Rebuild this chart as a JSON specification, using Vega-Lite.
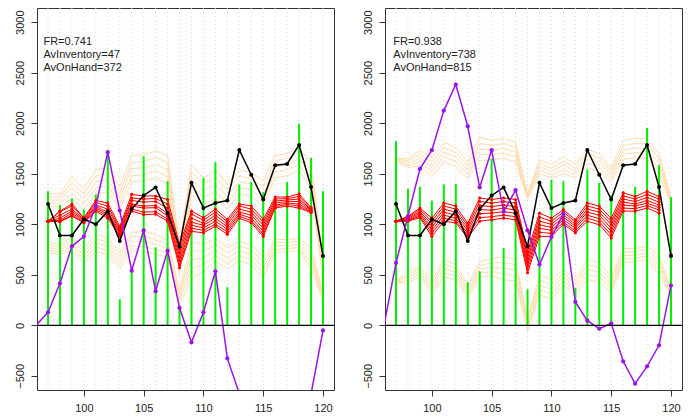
{
"$schema":"https://vega.github.io/schema/vega-lite/v6.json",
"padding":{"left":13,"top":7,"right":0,"bottom":0},
"spacing":25,
"config":{"font":"Liberation Sans","view":{"stroke":"#333","strokeWidth":1}},
"datasets":{
"black":[{"x":97,"v":1200},{"x":98,"v":890},{"x":99,"v":890},{"x":100,"v":1050},{"x":101,"v":1000},{"x":102,"v":1130},{"x":103,"v":835},{"x":104,"v":1150},{"x":105,"v":1285},{"x":106,"v":1365},{"x":107,"v":1110},{"x":108,"v":780},{"x":109,"v":1410},{"x":110,"v":1160},{"x":111,"v":1210},{"x":112,"v":1235},{"x":113,"v":1735},{"x":114,"v":1490},{"x":115,"v":1245},{"x":116,"v":1585},{"x":117,"v":1597},{"x":118,"v":1785},{"x":119,"v":1368},{"x":120,"v":685}],
"purple":[
{"p":"L","x":96,"v":0},{"p":"L","x":97,"v":129},{"p":"L","x":98,"v":416},{"p":"L","x":99,"v":782},{"p":"L","x":100,"v":878},{"p":"L","x":101,"v":1178},{"p":"L","x":102,"v":1713},{"p":"L","x":103,"v":1135},{"p":"L","x":104,"v":541},{"p":"L","x":105,"v":940},{"p":"L","x":106,"v":337},{"p":"L","x":107,"v":739},{"p":"L","x":108,"v":172},{"p":"L","x":109,"v":-168},{"p":"L","x":110,"v":129},{"p":"L","x":111,"v":535},{"p":"L","x":112,"v":-327},{"p":"L","x":113,"v":-675},{"p":"L","x":114,"v":-900},{"p":"L","x":115,"v":-1000},{"p":"L","x":116,"v":-1050},{"p":"L","x":117,"v":-1000},{"p":"L","x":118,"v":-850},{"p":"L","x":119,"v":-680},{"p":"L","x":120,"v":-50},
{"p":"R","x":96,"v":0},{"p":"R","x":97,"v":617},{"p":"R","x":98,"v":1079},{"p":"R","x":99,"v":1548},{"p":"R","x":100,"v":1733},{"p":"R","x":101,"v":2125},{"p":"R","x":102,"v":2383},{"p":"R","x":103,"v":1970},{"p":"R","x":104,"v":1366},{"p":"R","x":105,"v":1733},{"p":"R","x":106,"v":1125},{"p":"R","x":107,"v":1337},{"p":"R","x":108,"v":940},{"p":"R","x":109,"v":601},{"p":"R","x":110,"v":875},{"p":"R","x":111,"v":1102},{"p":"R","x":112,"v":231},{"p":"R","x":113,"v":46},{"p":"R","x":114,"v":-33},{"p":"R","x":115,"v":20},{"p":"R","x":116,"v":-356},{"p":"R","x":117,"v":-577},{"p":"R","x":118,"v":-406},{"p":"R","x":119,"v":-198},{"p":"R","x":120,"v":393}],
"green":[
{"p":"L","x":97,"v":1327},{"p":"L","x":98,"v":1190},{"p":"L","x":99,"v":1257},{"p":"L","x":100,"v":1148},{"p":"L","x":101,"v":1294},{"p":"L","x":102,"v":1715},{"p":"L","x":103,"v":257},{"p":"L","x":104,"v":540},{"p":"L","x":105,"v":1673},{"p":"L","x":106,"v":772},{"p":"L","x":107,"v":1426},{"p":"L","x":108,"v":175},{"p":"L","x":109,"v":1063},{"p":"L","x":110,"v":1459},{"p":"L","x":111,"v":1614},{"p":"L","x":112,"v":376},{"p":"L","x":113,"v":1393},{"p":"L","x":114,"v":1419},{"p":"L","x":115,"v":1317},{"p":"L","x":116,"v":1247},{"p":"L","x":117,"v":1419},{"p":"L","x":118,"v":1996},{"p":"L","x":119,"v":1657},{"p":"L","x":120,"v":1327},
{"p":"R","x":97,"v":1822},{"p":"R","x":98,"v":1350},{"p":"R","x":99,"v":1370},{"p":"R","x":100,"v":1234},{"p":"R","x":101,"v":1393},{"p":"R","x":102,"v":1400},{"p":"R","x":103,"v":426},{"p":"R","x":104,"v":535},{"p":"R","x":105,"v":1650},{"p":"R","x":106,"v":766},{"p":"R","x":107,"v":1234},{"p":"R","x":108,"v":356},{"p":"R","x":109,"v":1069},{"p":"R","x":110,"v":1442},{"p":"R","x":111,"v":1426},{"p":"R","x":112,"v":370},{"p":"R","x":113,"v":1541},{"p":"R","x":114,"v":1409},{"p":"R","x":115,"v":1287},{"p":"R","x":116,"v":1327},{"p":"R","x":117,"v":1370},{"p":"R","x":118,"v":1954},{"p":"R","x":119,"v":1584},{"p":"R","x":120,"v":1267}],
"red":[
{"p":"L","s":0,"x":120,"v":688},{"p":"R","s":0,"x":120,"v":700},
{"p":"L","s":1,"x":97,"v":1030},{"p":"L","s":1,"x":98,"v":1130},{"p":"L","s":1,"x":99,"v":1200},{"p":"L","s":1,"x":100,"v":1065},{"p":"L","s":1,"x":101,"v":1235},{"p":"L","s":1,"x":102,"v":1210},{"p":"L","s":1,"x":103,"v":980},{"p":"L","s":1,"x":104,"v":1295},{"p":"L","s":1,"x":105,"v":1280},{"p":"L","s":1,"x":106,"v":1280},{"p":"L","s":1,"x":107,"v":1245},{"p":"L","s":1,"x":108,"v":800},{"p":"L","s":1,"x":109,"v":1130},{"p":"L","s":1,"x":110,"v":1065},{"p":"L","s":1,"x":111,"v":1150},{"p":"L","s":1,"x":112,"v":1050},{"p":"L","s":1,"x":113,"v":1200},{"p":"L","s":1,"x":114,"v":1180},{"p":"L","s":1,"x":115,"v":1050},{"p":"L","s":1,"x":116,"v":1270},{"p":"L","s":1,"x":117,"v":1270},{"p":"L","s":1,"x":118,"v":1300},{"p":"L","s":1,"x":119,"v":1165},
{"p":"L","s":2,"x":97,"v":1030},{"p":"L","s":2,"x":98,"v":1125},{"p":"L","s":2,"x":99,"v":1180},{"p":"L","s":2,"x":100,"v":1060},{"p":"L","s":2,"x":101,"v":1215},{"p":"L","s":2,"x":102,"v":1180},{"p":"L","s":2,"x":103,"v":960},{"p":"L","s":2,"x":104,"v":1260},{"p":"L","s":2,"x":105,"v":1250},{"p":"L","s":2,"x":106,"v":1255},{"p":"L","s":2,"x":107,"v":1200},{"p":"L","s":2,"x":108,"v":760},{"p":"L","s":2,"x":109,"v":1100},{"p":"L","s":2,"x":110,"v":1040},{"p":"L","s":2,"x":111,"v":1120},{"p":"L","s":2,"x":112,"v":1025},{"p":"L","s":2,"x":113,"v":1180},{"p":"L","s":2,"x":114,"v":1150},{"p":"L","s":2,"x":115,"v":1020},{"p":"L","s":2,"x":116,"v":1250},{"p":"L","s":2,"x":117,"v":1255},{"p":"L","s":2,"x":118,"v":1275},{"p":"L","s":2,"x":119,"v":1155},
{"p":"L","s":3,"x":97,"v":1030},{"p":"L","s":3,"x":98,"v":1090},{"p":"L","s":3,"x":99,"v":1150},{"p":"L","s":3,"x":100,"v":1050},{"p":"L","s":3,"x":101,"v":1190},{"p":"L","s":3,"x":102,"v":1150},{"p":"L","s":3,"x":103,"v":945},{"p":"L","s":3,"x":104,"v":1235},{"p":"L","s":3,"x":105,"v":1220},{"p":"L","s":3,"x":106,"v":1225},{"p":"L","s":3,"x":107,"v":1160},{"p":"L","s":3,"x":108,"v":720},{"p":"L","s":3,"x":109,"v":1060},{"p":"L","s":3,"x":110,"v":1010},{"p":"L","s":3,"x":111,"v":1090},{"p":"L","s":3,"x":112,"v":1000},{"p":"L","s":3,"x":113,"v":1150},{"p":"L","s":3,"x":114,"v":1120},{"p":"L","s":3,"x":115,"v":990},{"p":"L","s":3,"x":116,"v":1230},{"p":"L","s":3,"x":117,"v":1240},{"p":"L","s":3,"x":118,"v":1250},{"p":"L","s":3,"x":119,"v":1145},
{"p":"L","s":4,"x":97,"v":1030},{"p":"L","s":4,"x":98,"v":1060},{"p":"L","s":4,"x":99,"v":1130},{"p":"L","s":4,"x":100,"v":1040},{"p":"L","s":4,"x":101,"v":1175},{"p":"L","s":4,"x":102,"v":1120},{"p":"L","s":4,"x":103,"v":930},{"p":"L","s":4,"x":104,"v":1200},{"p":"L","s":4,"x":105,"v":1180},{"p":"L","s":4,"x":106,"v":1185},{"p":"L","s":4,"x":107,"v":1110},{"p":"L","s":4,"x":108,"v":680},{"p":"L","s":4,"x":109,"v":1020},{"p":"L","s":4,"x":110,"v":990},{"p":"L","s":4,"x":111,"v":1060},{"p":"L","s":4,"x":112,"v":975},{"p":"L","s":4,"x":113,"v":1120},{"p":"L","s":4,"x":114,"v":1090},{"p":"L","s":4,"x":115,"v":960},{"p":"L","s":4,"x":116,"v":1210},{"p":"L","s":4,"x":117,"v":1225},{"p":"L","s":4,"x":118,"v":1225},{"p":"L","s":4,"x":119,"v":1140},
{"p":"L","s":5,"x":97,"v":1030},{"p":"L","s":5,"x":98,"v":1040},{"p":"L","s":5,"x":99,"v":1110},{"p":"L","s":5,"x":100,"v":1030},{"p":"L","s":5,"x":101,"v":1160},{"p":"L","s":5,"x":102,"v":1100},{"p":"L","s":5,"x":103,"v":915},{"p":"L","s":5,"x":104,"v":1180},{"p":"L","s":5,"x":105,"v":1160},{"p":"L","s":5,"x":106,"v":1165},{"p":"L","s":5,"x":107,"v":1080},{"p":"L","s":5,"x":108,"v":640},{"p":"L","s":5,"x":109,"v":990},{"p":"L","s":5,"x":110,"v":965},{"p":"L","s":5,"x":111,"v":1030},{"p":"L","s":5,"x":112,"v":950},{"p":"L","s":5,"x":113,"v":1100},{"p":"L","s":5,"x":114,"v":1060},{"p":"L","s":5,"x":115,"v":930},{"p":"L","s":5,"x":116,"v":1190},{"p":"L","s":5,"x":117,"v":1210},{"p":"L","s":5,"x":118,"v":1200},{"p":"L","s":5,"x":119,"v":1130},
{"p":"L","s":6,"x":97,"v":1030},{"p":"L","s":6,"x":98,"v":1030},{"p":"L","s":6,"x":99,"v":1090},{"p":"L","s":6,"x":100,"v":1020},{"p":"L","s":6,"x":101,"v":1145},{"p":"L","s":6,"x":102,"v":1080},{"p":"L","s":6,"x":103,"v":900},{"p":"L","s":6,"x":104,"v":1150},{"p":"L","s":6,"x":105,"v":1120},{"p":"L","s":6,"x":106,"v":1125},{"p":"L","s":6,"x":107,"v":1050},{"p":"L","s":6,"x":108,"v":600},{"p":"L","s":6,"x":109,"v":960},{"p":"L","s":6,"x":110,"v":940},{"p":"L","s":6,"x":111,"v":1000},{"p":"L","s":6,"x":112,"v":925},{"p":"L","s":6,"x":113,"v":1080},{"p":"L","s":6,"x":114,"v":1035},{"p":"L","s":6,"x":115,"v":900},{"p":"L","s":6,"x":116,"v":1175},{"p":"L","s":6,"x":117,"v":1195},{"p":"L","s":6,"x":118,"v":1180},{"p":"L","s":6,"x":119,"v":1120},
{"p":"L","s":7,"x":97,"v":1030},{"p":"L","s":7,"x":98,"v":1025},{"p":"L","s":7,"x":99,"v":1080},{"p":"L","s":7,"x":100,"v":1015},{"p":"L","s":7,"x":101,"v":1130},{"p":"L","s":7,"x":102,"v":1060},{"p":"L","s":7,"x":103,"v":880},{"p":"L","s":7,"x":104,"v":1130},{"p":"L","s":7,"x":105,"v":1095},{"p":"L","s":7,"x":106,"v":1100},{"p":"L","s":7,"x":107,"v":1030},{"p":"L","s":7,"x":108,"v":570},{"p":"L","s":7,"x":109,"v":930},{"p":"L","s":7,"x":110,"v":915},{"p":"L","s":7,"x":111,"v":980},{"p":"L","s":7,"x":112,"v":900},{"p":"L","s":7,"x":113,"v":1060},{"p":"L","s":7,"x":114,"v":1015},{"p":"L","s":7,"x":115,"v":880},{"p":"L","s":7,"x":116,"v":1160},{"p":"L","s":7,"x":117,"v":1180},{"p":"L","s":7,"x":118,"v":1160},{"p":"L","s":7,"x":119,"v":1115},
{"p":"R","s":1,"x":97,"v":1030},{"p":"R","s":1,"x":98,"v":1080},{"p":"R","s":1,"x":99,"v":1160},{"p":"R","s":1,"x":100,"v":1060},{"p":"R","s":1,"x":101,"v":1210},{"p":"R","s":1,"x":102,"v":1180},{"p":"R","s":1,"x":103,"v":1010},{"p":"R","s":1,"x":104,"v":1260},{"p":"R","s":1,"x":105,"v":1245},{"p":"R","s":1,"x":106,"v":1260},{"p":"R","s":1,"x":107,"v":1245},{"p":"R","s":1,"x":108,"v":730},{"p":"R","s":1,"x":109,"v":1110},{"p":"R","s":1,"x":110,"v":1060},{"p":"R","s":1,"x":111,"v":1145},{"p":"R","s":1,"x":112,"v":1045},{"p":"R","s":1,"x":113,"v":1210},{"p":"R","s":1,"x":114,"v":1180},{"p":"R","s":1,"x":115,"v":1060},{"p":"R","s":1,"x":116,"v":1310},{"p":"R","s":1,"x":117,"v":1275},{"p":"R","s":1,"x":118,"v":1325},{"p":"R","s":1,"x":119,"v":1275},
{"p":"R","s":2,"x":97,"v":1030},{"p":"R","s":2,"x":98,"v":1070},{"p":"R","s":2,"x":99,"v":1145},{"p":"R","s":2,"x":100,"v":1030},{"p":"R","s":2,"x":101,"v":1180},{"p":"R","s":2,"x":102,"v":1150},{"p":"R","s":2,"x":103,"v":985},{"p":"R","s":2,"x":104,"v":1225},{"p":"R","s":2,"x":105,"v":1210},{"p":"R","s":2,"x":106,"v":1225},{"p":"R","s":2,"x":107,"v":1210},{"p":"R","s":2,"x":108,"v":695},{"p":"R","s":2,"x":109,"v":1070},{"p":"R","s":2,"x":110,"v":1030},{"p":"R","s":2,"x":111,"v":1120},{"p":"R","s":2,"x":112,"v":1025},{"p":"R","s":2,"x":113,"v":1180},{"p":"R","s":2,"x":114,"v":1150},{"p":"R","s":2,"x":115,"v":1025},{"p":"R","s":2,"x":116,"v":1280},{"p":"R","s":2,"x":117,"v":1250},{"p":"R","s":2,"x":118,"v":1295},{"p":"R","s":2,"x":119,"v":1250},
{"p":"R","s":3,"x":97,"v":1030},{"p":"R","s":3,"x":98,"v":1060},{"p":"R","s":3,"x":99,"v":1125},{"p":"R","s":3,"x":100,"v":1000},{"p":"R","s":3,"x":101,"v":1150},{"p":"R","s":3,"x":102,"v":1120},{"p":"R","s":3,"x":103,"v":960},{"p":"R","s":3,"x":104,"v":1185},{"p":"R","s":3,"x":105,"v":1175},{"p":"R","s":3,"x":106,"v":1190},{"p":"R","s":3,"x":107,"v":1175},{"p":"R","s":3,"x":108,"v":660},{"p":"R","s":3,"x":109,"v":1030},{"p":"R","s":3,"x":110,"v":1000},{"p":"R","s":3,"x":111,"v":1095},{"p":"R","s":3,"x":112,"v":1000},{"p":"R","s":3,"x":113,"v":1150},{"p":"R","s":3,"x":114,"v":1120},{"p":"R","s":3,"x":115,"v":995},{"p":"R","s":3,"x":116,"v":1250},{"p":"R","s":3,"x":117,"v":1225},{"p":"R","s":3,"x":118,"v":1265},{"p":"R","s":3,"x":119,"v":1220},
{"p":"R","s":4,"x":97,"v":1030},{"p":"R","s":4,"x":98,"v":1050},{"p":"R","s":4,"x":99,"v":1110},{"p":"R","s":4,"x":100,"v":970},{"p":"R","s":4,"x":101,"v":1120},{"p":"R","s":4,"x":102,"v":1090},{"p":"R","s":4,"x":103,"v":935},{"p":"R","s":4,"x":104,"v":1145},{"p":"R","s":4,"x":105,"v":1140},{"p":"R","s":4,"x":106,"v":1160},{"p":"R","s":4,"x":107,"v":1140},{"p":"R","s":4,"x":108,"v":625},{"p":"R","s":4,"x":109,"v":995},{"p":"R","s":4,"x":110,"v":970},{"p":"R","s":4,"x":111,"v":1070},{"p":"R","s":4,"x":112,"v":980},{"p":"R","s":4,"x":113,"v":1120},{"p":"R","s":4,"x":114,"v":1090},{"p":"R","s":4,"x":115,"v":960},{"p":"R","s":4,"x":116,"v":1220},{"p":"R","s":4,"x":117,"v":1200},{"p":"R","s":4,"x":118,"v":1235},{"p":"R","s":4,"x":119,"v":1190},
{"p":"R","s":5,"x":97,"v":1030},{"p":"R","s":5,"x":98,"v":1040},{"p":"R","s":5,"x":99,"v":1095},{"p":"R","s":5,"x":100,"v":940},{"p":"R","s":5,"x":101,"v":1090},{"p":"R","s":5,"x":102,"v":1060},{"p":"R","s":5,"x":103,"v":910},{"p":"R","s":5,"x":104,"v":1105},{"p":"R","s":5,"x":105,"v":1110},{"p":"R","s":5,"x":106,"v":1125},{"p":"R","s":5,"x":107,"v":1110},{"p":"R","s":5,"x":108,"v":590},{"p":"R","s":5,"x":109,"v":960},{"p":"R","s":5,"x":110,"v":940},{"p":"R","s":5,"x":111,"v":1045},{"p":"R","s":5,"x":112,"v":960},{"p":"R","s":5,"x":113,"v":1090},{"p":"R","s":5,"x":114,"v":1055},{"p":"R","s":5,"x":115,"v":930},{"p":"R","s":5,"x":116,"v":1190},{"p":"R","s":5,"x":117,"v":1180},{"p":"R","s":5,"x":118,"v":1210},{"p":"R","s":5,"x":119,"v":1165},
{"p":"R","s":6,"x":97,"v":1030},{"p":"R","s":6,"x":98,"v":1035},{"p":"R","s":6,"x":99,"v":1080},{"p":"R","s":6,"x":100,"v":910},{"p":"R","s":6,"x":101,"v":1060},{"p":"R","s":6,"x":102,"v":1035},{"p":"R","s":6,"x":103,"v":890},{"p":"R","s":6,"x":104,"v":1065},{"p":"R","s":6,"x":105,"v":1075},{"p":"R","s":6,"x":106,"v":1090},{"p":"R","s":6,"x":107,"v":1075},{"p":"R","s":6,"x":108,"v":555},{"p":"R","s":6,"x":109,"v":920},{"p":"R","s":6,"x":110,"v":910},{"p":"R","s":6,"x":111,"v":1020},{"p":"R","s":6,"x":112,"v":935},{"p":"R","s":6,"x":113,"v":1060},{"p":"R","s":6,"x":114,"v":1025},{"p":"R","s":6,"x":115,"v":895},{"p":"R","s":6,"x":116,"v":1160},{"p":"R","s":6,"x":117,"v":1155},{"p":"R","s":6,"x":118,"v":1185},{"p":"R","s":6,"x":119,"v":1140},
{"p":"R","s":7,"x":97,"v":1030},{"p":"R","s":7,"x":98,"v":1030},{"p":"R","s":7,"x":99,"v":1065},{"p":"R","s":7,"x":100,"v":880},{"p":"R","s":7,"x":101,"v":1030},{"p":"R","s":7,"x":102,"v":1015},{"p":"R","s":7,"x":103,"v":865},{"p":"R","s":7,"x":104,"v":1030},{"p":"R","s":7,"x":105,"v":1045},{"p":"R","s":7,"x":106,"v":1060},{"p":"R","s":7,"x":107,"v":1045},{"p":"R","s":7,"x":108,"v":520},{"p":"R","s":7,"x":109,"v":880},{"p":"R","s":7,"x":110,"v":880},{"p":"R","s":7,"x":111,"v":1000},{"p":"R","s":7,"x":112,"v":915},{"p":"R","s":7,"x":113,"v":1030},{"p":"R","s":7,"x":114,"v":995},{"p":"R","s":7,"x":115,"v":865},{"p":"R","s":7,"x":116,"v":1130},{"p":"R","s":7,"x":117,"v":1130},{"p":"R","s":7,"x":118,"v":1160},{"p":"R","s":7,"x":119,"v":1110}],
"orange":[
{"p":"L","s":1,"x":97,"v":1300},{"p":"L","s":1,"x":98,"v":1300},{"p":"L","s":1,"x":99,"v":1470},{"p":"L","s":1,"x":100,"v":1350},{"p":"L","s":1,"x":101,"v":1540},{"p":"L","s":1,"x":102,"v":1560},{"p":"L","s":1,"x":103,"v":1370},{"p":"L","s":1,"x":104,"v":1680},{"p":"L","s":1,"x":105,"v":1690},{"p":"L","s":1,"x":106,"v":1725},{"p":"L","s":1,"x":107,"v":1680},{"p":"L","s":1,"x":108,"v":800},{"p":"L","s":1,"x":109,"v":1590},{"p":"L","s":1,"x":110,"v":1460},{"p":"L","s":1,"x":111,"v":1530},{"p":"L","s":1,"x":112,"v":1400},{"p":"L","s":1,"x":113,"v":1540},{"p":"L","s":1,"x":114,"v":1510},{"p":"L","s":1,"x":115,"v":1430},{"p":"L","s":1,"x":116,"v":1680},{"p":"L","s":1,"x":117,"v":1700},{"p":"L","s":1,"x":118,"v":1760},{"p":"L","s":1,"x":119,"v":1600},{"p":"L","s":1,"x":120,"v":700},
{"p":"L","s":2,"x":97,"v":1270},{"p":"L","s":2,"x":98,"v":1270},{"p":"L","s":2,"x":99,"v":1410},{"p":"L","s":2,"x":100,"v":1300},{"p":"L","s":2,"x":101,"v":1480},{"p":"L","s":2,"x":102,"v":1500},{"p":"L","s":2,"x":103,"v":1310},{"p":"L","s":2,"x":104,"v":1610},{"p":"L","s":2,"x":105,"v":1620},{"p":"L","s":2,"x":106,"v":1660},{"p":"L","s":2,"x":107,"v":1610},{"p":"L","s":2,"x":108,"v":720},{"p":"L","s":2,"x":109,"v":1520},{"p":"L","s":2,"x":110,"v":1400},{"p":"L","s":2,"x":111,"v":1460},{"p":"L","s":2,"x":112,"v":1340},{"p":"L","s":2,"x":113,"v":1480},{"p":"L","s":2,"x":114,"v":1450},{"p":"L","s":2,"x":115,"v":1370},{"p":"L","s":2,"x":116,"v":1630},{"p":"L","s":2,"x":117,"v":1650},{"p":"L","s":2,"x":118,"v":1700},{"p":"L","s":2,"x":119,"v":1540},{"p":"L","s":2,"x":120,"v":640},
{"p":"L","s":3,"x":97,"v":1240},{"p":"L","s":3,"x":98,"v":1240},{"p":"L","s":3,"x":99,"v":1360},{"p":"L","s":3,"x":100,"v":1250},{"p":"L","s":3,"x":101,"v":1420},{"p":"L","s":3,"x":102,"v":1440},{"p":"L","s":3,"x":103,"v":1260},{"p":"L","s":3,"x":104,"v":1550},{"p":"L","s":3,"x":105,"v":1560},{"p":"L","s":3,"x":106,"v":1590},{"p":"L","s":3,"x":107,"v":1540},{"p":"L","s":3,"x":108,"v":650},{"p":"L","s":3,"x":109,"v":1450},{"p":"L","s":3,"x":110,"v":1330},{"p":"L","s":3,"x":111,"v":1390},{"p":"L","s":3,"x":112,"v":1280},{"p":"L","s":3,"x":113,"v":1420},{"p":"L","s":3,"x":114,"v":1400},{"p":"L","s":3,"x":115,"v":1300},{"p":"L","s":3,"x":116,"v":1570},{"p":"L","s":3,"x":117,"v":1590},{"p":"L","s":3,"x":118,"v":1650},{"p":"L","s":3,"x":119,"v":1480},{"p":"L","s":3,"x":120,"v":580},
{"p":"L","s":4,"x":97,"v":1210},{"p":"L","s":4,"x":98,"v":1210},{"p":"L","s":4,"x":99,"v":1300},{"p":"L","s":4,"x":100,"v":1200},{"p":"L","s":4,"x":101,"v":1360},{"p":"L","s":4,"x":102,"v":1380},{"p":"L","s":4,"x":103,"v":1200},{"p":"L","s":4,"x":104,"v":1480},{"p":"L","s":4,"x":105,"v":1490},{"p":"L","s":4,"x":106,"v":1530},{"p":"L","s":4,"x":107,"v":1470},{"p":"L","s":4,"x":108,"v":570},{"p":"L","s":4,"x":109,"v":1370},{"p":"L","s":4,"x":110,"v":1270},{"p":"L","s":4,"x":111,"v":1320},{"p":"L","s":4,"x":112,"v":1210},{"p":"L","s":4,"x":113,"v":1360},{"p":"L","s":4,"x":114,"v":1340},{"p":"L","s":4,"x":115,"v":1240},{"p":"L","s":4,"x":116,"v":1520},{"p":"L","s":4,"x":117,"v":1540},{"p":"L","s":4,"x":118,"v":1590},{"p":"L","s":4,"x":119,"v":1410},{"p":"L","s":4,"x":120,"v":510},
{"p":"L","s":5,"x":97,"v":1180},{"p":"L","s":5,"x":98,"v":1180},{"p":"L","s":5,"x":99,"v":1250},{"p":"L","s":5,"x":100,"v":1150},{"p":"L","s":5,"x":101,"v":1300},{"p":"L","s":5,"x":102,"v":1320},{"p":"L","s":5,"x":103,"v":1150},{"p":"L","s":5,"x":104,"v":1420},{"p":"L","s":5,"x":105,"v":1430},{"p":"L","s":5,"x":106,"v":1460},{"p":"L","s":5,"x":107,"v":1400},{"p":"L","s":5,"x":108,"v":500},{"p":"L","s":5,"x":109,"v":1300},{"p":"L","s":5,"x":110,"v":1200},{"p":"L","s":5,"x":111,"v":1250},{"p":"L","s":5,"x":112,"v":1150},{"p":"L","s":5,"x":113,"v":1300},{"p":"L","s":5,"x":114,"v":1280},{"p":"L","s":5,"x":115,"v":1180},{"p":"L","s":5,"x":116,"v":1460},{"p":"L","s":5,"x":117,"v":1480},{"p":"L","s":5,"x":118,"v":1530},{"p":"L","s":5,"x":119,"v":1350},{"p":"L","s":5,"x":120,"v":450},
{"p":"L","s":6,"x":97,"v":820},{"p":"L","s":6,"x":98,"v":800},{"p":"L","s":6,"x":99,"v":880},{"p":"L","s":6,"x":100,"v":760},{"p":"L","s":6,"x":101,"v":900},{"p":"L","s":6,"x":102,"v":860},{"p":"L","s":6,"x":103,"v":720},{"p":"L","s":6,"x":104,"v":920},{"p":"L","s":6,"x":105,"v":930},{"p":"L","s":6,"x":106,"v":900},{"p":"L","s":6,"x":107,"v":840},{"p":"L","s":6,"x":108,"v":350},{"p":"L","s":6,"x":109,"v":830},{"p":"L","s":6,"x":110,"v":800},{"p":"L","s":6,"x":111,"v":860},{"p":"L","s":6,"x":112,"v":770},{"p":"L","s":6,"x":113,"v":830},{"p":"L","s":6,"x":114,"v":800},{"p":"L","s":6,"x":115,"v":670},{"p":"L","s":6,"x":116,"v":850},{"p":"L","s":6,"x":117,"v":850},{"p":"L","s":6,"x":118,"v":860},{"p":"L","s":6,"x":119,"v":760},{"p":"L","s":6,"x":120,"v":330},
{"p":"L","s":7,"x":97,"v":795},{"p":"L","s":7,"x":98,"v":775},{"p":"L","s":7,"x":99,"v":845},{"p":"L","s":7,"x":100,"v":725},{"p":"L","s":7,"x":101,"v":860},{"p":"L","s":7,"x":102,"v":820},{"p":"L","s":7,"x":103,"v":680},{"p":"L","s":7,"x":104,"v":875},{"p":"L","s":7,"x":105,"v":880},{"p":"L","s":7,"x":106,"v":850},{"p":"L","s":7,"x":107,"v":800},{"p":"L","s":7,"x":108,"v":310},{"p":"L","s":7,"x":109,"v":740},{"p":"L","s":7,"x":110,"v":730},{"p":"L","s":7,"x":111,"v":800},{"p":"L","s":7,"x":112,"v":720},{"p":"L","s":7,"x":113,"v":785},{"p":"L","s":7,"x":114,"v":750},{"p":"L","s":7,"x":115,"v":620},{"p":"L","s":7,"x":116,"v":820},{"p":"L","s":7,"x":117,"v":820},{"p":"L","s":7,"x":118,"v":830},{"p":"L","s":7,"x":119,"v":710},{"p":"L","s":7,"x":120,"v":310},
{"p":"L","s":8,"x":97,"v":770},{"p":"L","s":8,"x":98,"v":750},{"p":"L","s":8,"x":99,"v":810},{"p":"L","s":8,"x":100,"v":690},{"p":"L","s":8,"x":101,"v":815},{"p":"L","s":8,"x":102,"v":780},{"p":"L","s":8,"x":103,"v":640},{"p":"L","s":8,"x":104,"v":830},{"p":"L","s":8,"x":105,"v":830},{"p":"L","s":8,"x":106,"v":800},{"p":"L","s":8,"x":107,"v":760},{"p":"L","s":8,"x":108,"v":275},{"p":"L","s":8,"x":109,"v":650},{"p":"L","s":8,"x":110,"v":665},{"p":"L","s":8,"x":111,"v":745},{"p":"L","s":8,"x":112,"v":665},{"p":"L","s":8,"x":113,"v":735},{"p":"L","s":8,"x":114,"v":700},{"p":"L","s":8,"x":115,"v":570},{"p":"L","s":8,"x":116,"v":785},{"p":"L","s":8,"x":117,"v":790},{"p":"L","s":8,"x":118,"v":800},{"p":"L","s":8,"x":119,"v":660},{"p":"L","s":8,"x":120,"v":290},
{"p":"L","s":9,"x":97,"v":745},{"p":"L","s":9,"x":98,"v":725},{"p":"L","s":9,"x":99,"v":775},{"p":"L","s":9,"x":100,"v":655},{"p":"L","s":9,"x":101,"v":775},{"p":"L","s":9,"x":102,"v":740},{"p":"L","s":9,"x":103,"v":600},{"p":"L","s":9,"x":104,"v":785},{"p":"L","s":9,"x":105,"v":780},{"p":"L","s":9,"x":106,"v":750},{"p":"L","s":9,"x":107,"v":720},{"p":"L","s":9,"x":108,"v":240},{"p":"L","s":9,"x":109,"v":560},{"p":"L","s":9,"x":110,"v":600},{"p":"L","s":9,"x":111,"v":690},{"p":"L","s":9,"x":112,"v":610},{"p":"L","s":9,"x":113,"v":690},{"p":"L","s":9,"x":114,"v":650},{"p":"L","s":9,"x":115,"v":520},{"p":"L","s":9,"x":116,"v":750},{"p":"L","s":9,"x":117,"v":760},{"p":"L","s":9,"x":118,"v":770},{"p":"L","s":9,"x":119,"v":610},{"p":"L","s":9,"x":120,"v":270},
{"p":"L","s":10,"x":97,"v":720},{"p":"L","s":10,"x":98,"v":700},{"p":"L","s":10,"x":99,"v":740},{"p":"L","s":10,"x":100,"v":620},{"p":"L","s":10,"x":101,"v":730},{"p":"L","s":10,"x":102,"v":700},{"p":"L","s":10,"x":103,"v":560},{"p":"L","s":10,"x":104,"v":740},{"p":"L","s":10,"x":105,"v":730},{"p":"L","s":10,"x":106,"v":700},{"p":"L","s":10,"x":107,"v":680},{"p":"L","s":10,"x":108,"v":200},{"p":"L","s":10,"x":109,"v":470},{"p":"L","s":10,"x":110,"v":530},{"p":"L","s":10,"x":111,"v":630},{"p":"L","s":10,"x":112,"v":560},{"p":"L","s":10,"x":113,"v":640},{"p":"L","s":10,"x":114,"v":600},{"p":"L","s":10,"x":115,"v":470},{"p":"L","s":10,"x":116,"v":720},{"p":"L","s":10,"x":117,"v":730},{"p":"L","s":10,"x":118,"v":740},{"p":"L","s":10,"x":119,"v":560},{"p":"L","s":10,"x":120,"v":250},
{"p":"R","s":1,"x":97,"v":1655},{"p":"R","s":1,"x":98,"v":1650},{"p":"R","s":1,"x":99,"v":1730},{"p":"R","s":1,"x":100,"v":1660},{"p":"R","s":1,"x":101,"v":1810},{"p":"R","s":1,"x":102,"v":1760},{"p":"R","s":1,"x":103,"v":1620},{"p":"R","s":1,"x":104,"v":1860},{"p":"R","s":1,"x":105,"v":1830},{"p":"R","s":1,"x":106,"v":1850},{"p":"R","s":1,"x":107,"v":1810},{"p":"R","s":1,"x":108,"v":1300},{"p":"R","s":1,"x":109,"v":1640},{"p":"R","s":1,"x":110,"v":1590},{"p":"R","s":1,"x":111,"v":1670},{"p":"R","s":1,"x":112,"v":1590},{"p":"R","s":1,"x":113,"v":1740},{"p":"R","s":1,"x":114,"v":1700},{"p":"R","s":1,"x":115,"v":1550},{"p":"R","s":1,"x":116,"v":1830},{"p":"R","s":1,"x":117,"v":1850},{"p":"R","s":1,"x":118,"v":1850},{"p":"R","s":1,"x":119,"v":1700},{"p":"R","s":1,"x":120,"v":1270},
{"p":"R","s":2,"x":97,"v":1645},{"p":"R","s":2,"x":98,"v":1630},{"p":"R","s":2,"x":99,"v":1690},{"p":"R","s":2,"x":100,"v":1610},{"p":"R","s":2,"x":101,"v":1760},{"p":"R","s":2,"x":102,"v":1710},{"p":"R","s":2,"x":103,"v":1580},{"p":"R","s":2,"x":104,"v":1800},{"p":"R","s":2,"x":105,"v":1780},{"p":"R","s":2,"x":106,"v":1800},{"p":"R","s":2,"x":107,"v":1760},{"p":"R","s":2,"x":108,"v":1290},{"p":"R","s":2,"x":109,"v":1605},{"p":"R","s":2,"x":110,"v":1555},{"p":"R","s":2,"x":111,"v":1625},{"p":"R","s":2,"x":112,"v":1555},{"p":"R","s":2,"x":113,"v":1695},{"p":"R","s":2,"x":114,"v":1655},{"p":"R","s":2,"x":115,"v":1515},{"p":"R","s":2,"x":116,"v":1780},{"p":"R","s":2,"x":117,"v":1800},{"p":"R","s":2,"x":118,"v":1800},{"p":"R","s":2,"x":119,"v":1650},{"p":"R","s":2,"x":120,"v":1250},
{"p":"R","s":3,"x":97,"v":1640},{"p":"R","s":3,"x":98,"v":1605},{"p":"R","s":3,"x":99,"v":1655},{"p":"R","s":3,"x":100,"v":1565},{"p":"R","s":3,"x":101,"v":1715},{"p":"R","s":3,"x":102,"v":1665},{"p":"R","s":3,"x":103,"v":1535},{"p":"R","s":3,"x":104,"v":1745},{"p":"R","s":3,"x":105,"v":1735},{"p":"R","s":3,"x":106,"v":1750},{"p":"R","s":3,"x":107,"v":1715},{"p":"R","s":3,"x":108,"v":1275},{"p":"R","s":3,"x":109,"v":1570},{"p":"R","s":3,"x":110,"v":1525},{"p":"R","s":3,"x":111,"v":1585},{"p":"R","s":3,"x":112,"v":1525},{"p":"R","s":3,"x":113,"v":1650},{"p":"R","s":3,"x":114,"v":1610},{"p":"R","s":3,"x":115,"v":1485},{"p":"R","s":3,"x":116,"v":1735},{"p":"R","s":3,"x":117,"v":1755},{"p":"R","s":3,"x":118,"v":1750},{"p":"R","s":3,"x":119,"v":1600},{"p":"R","s":3,"x":120,"v":1235},
{"p":"R","s":4,"x":97,"v":1630},{"p":"R","s":4,"x":98,"v":1580},{"p":"R","s":4,"x":99,"v":1620},{"p":"R","s":4,"x":100,"v":1520},{"p":"R","s":4,"x":101,"v":1670},{"p":"R","s":4,"x":102,"v":1620},{"p":"R","s":4,"x":103,"v":1490},{"p":"R","s":4,"x":104,"v":1690},{"p":"R","s":4,"x":105,"v":1690},{"p":"R","s":4,"x":106,"v":1700},{"p":"R","s":4,"x":107,"v":1670},{"p":"R","s":4,"x":108,"v":1260},{"p":"R","s":4,"x":109,"v":1535},{"p":"R","s":4,"x":110,"v":1490},{"p":"R","s":4,"x":111,"v":1540},{"p":"R","s":4,"x":112,"v":1490},{"p":"R","s":4,"x":113,"v":1605},{"p":"R","s":4,"x":114,"v":1565},{"p":"R","s":4,"x":115,"v":1450},{"p":"R","s":4,"x":116,"v":1690},{"p":"R","s":4,"x":117,"v":1710},{"p":"R","s":4,"x":118,"v":1700},{"p":"R","s":4,"x":119,"v":1550},{"p":"R","s":4,"x":120,"v":1220},
{"p":"R","s":5,"x":97,"v":1620},{"p":"R","s":5,"x":98,"v":1560},{"p":"R","s":5,"x":99,"v":1580},{"p":"R","s":5,"x":100,"v":1470},{"p":"R","s":5,"x":101,"v":1620},{"p":"R","s":5,"x":102,"v":1570},{"p":"R","s":5,"x":103,"v":1450},{"p":"R","s":5,"x":104,"v":1630},{"p":"R","s":5,"x":105,"v":1640},{"p":"R","s":5,"x":106,"v":1650},{"p":"R","s":5,"x":107,"v":1620},{"p":"R","s":5,"x":108,"v":1250},{"p":"R","s":5,"x":109,"v":1500},{"p":"R","s":5,"x":110,"v":1460},{"p":"R","s":5,"x":111,"v":1500},{"p":"R","s":5,"x":112,"v":1460},{"p":"R","s":5,"x":113,"v":1560},{"p":"R","s":5,"x":114,"v":1520},{"p":"R","s":5,"x":115,"v":1420},{"p":"R","s":5,"x":116,"v":1640},{"p":"R","s":5,"x":117,"v":1660},{"p":"R","s":5,"x":118,"v":1650},{"p":"R","s":5,"x":119,"v":1500},{"p":"R","s":5,"x":120,"v":1200},
{"p":"R","s":6,"x":97,"v":440},{"p":"R","s":6,"x":98,"v":530},{"p":"R","s":6,"x":99,"v":580},{"p":"R","s":6,"x":100,"v":450},{"p":"R","s":6,"x":101,"v":650},{"p":"R","s":6,"x":102,"v":600},{"p":"R","s":6,"x":103,"v":400},{"p":"R","s":6,"x":104,"v":630},{"p":"R","s":6,"x":105,"v":660},{"p":"R","s":6,"x":106,"v":680},{"p":"R","s":6,"x":107,"v":650},{"p":"R","s":6,"x":108,"v":80},{"p":"R","s":6,"x":109,"v":500},{"p":"R","s":6,"x":110,"v":450},{"p":"R","s":6,"x":111,"v":560},{"p":"R","s":6,"x":112,"v":450},{"p":"R","s":6,"x":113,"v":650},{"p":"R","s":6,"x":114,"v":620},{"p":"R","s":6,"x":115,"v":480},{"p":"R","s":6,"x":116,"v":760},{"p":"R","s":6,"x":117,"v":760},{"p":"R","s":6,"x":118,"v":780},{"p":"R","s":6,"x":119,"v":700},{"p":"R","s":6,"x":120,"v":340},
{"p":"R","s":7,"x":97,"v":435},{"p":"R","s":7,"x":98,"v":500},{"p":"R","s":7,"x":99,"v":555},{"p":"R","s":7,"x":100,"v":410},{"p":"R","s":7,"x":101,"v":610},{"p":"R","s":7,"x":102,"v":560},{"p":"R","s":7,"x":103,"v":370},{"p":"R","s":7,"x":104,"v":590},{"p":"R","s":7,"x":105,"v":620},{"p":"R","s":7,"x":106,"v":620},{"p":"R","s":7,"x":107,"v":600},{"p":"R","s":7,"x":108,"v":45},{"p":"R","s":7,"x":109,"v":450},{"p":"R","s":7,"x":110,"v":400},{"p":"R","s":7,"x":111,"v":520},{"p":"R","s":7,"x":112,"v":410},{"p":"R","s":7,"x":113,"v":600},{"p":"R","s":7,"x":114,"v":570},{"p":"R","s":7,"x":115,"v":440},{"p":"R","s":7,"x":116,"v":725},{"p":"R","s":7,"x":117,"v":730},{"p":"R","s":7,"x":118,"v":750},{"p":"R","s":7,"x":119,"v":650},{"p":"R","s":7,"x":120,"v":330},
{"p":"R","s":8,"x":97,"v":430},{"p":"R","s":8,"x":98,"v":475},{"p":"R","s":8,"x":99,"v":530},{"p":"R","s":8,"x":100,"v":375},{"p":"R","s":8,"x":101,"v":565},{"p":"R","s":8,"x":102,"v":525},{"p":"R","s":8,"x":103,"v":335},{"p":"R","s":8,"x":104,"v":555},{"p":"R","s":8,"x":105,"v":575},{"p":"R","s":8,"x":106,"v":565},{"p":"R","s":8,"x":107,"v":545},{"p":"R","s":8,"x":108,"v":10},{"p":"R","s":8,"x":109,"v":400},{"p":"R","s":8,"x":110,"v":355},{"p":"R","s":8,"x":111,"v":480},{"p":"R","s":8,"x":112,"v":375},{"p":"R","s":8,"x":113,"v":550},{"p":"R","s":8,"x":114,"v":525},{"p":"R","s":8,"x":115,"v":400},{"p":"R","s":8,"x":116,"v":690},{"p":"R","s":8,"x":117,"v":695},{"p":"R","s":8,"x":118,"v":715},{"p":"R","s":8,"x":119,"v":600},{"p":"R","s":8,"x":120,"v":320},
{"p":"R","s":9,"x":97,"v":425},{"p":"R","s":9,"x":98,"v":445},{"p":"R","s":9,"x":99,"v":505},{"p":"R","s":9,"x":100,"v":340},{"p":"R","s":9,"x":101,"v":520},{"p":"R","s":9,"x":102,"v":490},{"p":"R","s":9,"x":103,"v":300},{"p":"R","s":9,"x":104,"v":520},{"p":"R","s":9,"x":105,"v":530},{"p":"R","s":9,"x":106,"v":510},{"p":"R","s":9,"x":107,"v":490},{"p":"R","s":9,"x":108,"v":-25},{"p":"R","s":9,"x":109,"v":350},{"p":"R","s":9,"x":110,"v":310},{"p":"R","s":9,"x":111,"v":440},{"p":"R","s":9,"x":112,"v":340},{"p":"R","s":9,"x":113,"v":500},{"p":"R","s":9,"x":114,"v":480},{"p":"R","s":9,"x":115,"v":360},{"p":"R","s":9,"x":116,"v":655},{"p":"R","s":9,"x":117,"v":665},{"p":"R","s":9,"x":118,"v":685},{"p":"R","s":9,"x":119,"v":550},{"p":"R","s":9,"x":120,"v":310},
{"p":"R","s":10,"x":97,"v":420},{"p":"R","s":10,"x":98,"v":420},{"p":"R","s":10,"x":99,"v":480},{"p":"R","s":10,"x":100,"v":300},{"p":"R","s":10,"x":101,"v":480},{"p":"R","s":10,"x":102,"v":450},{"p":"R","s":10,"x":103,"v":270},{"p":"R","s":10,"x":104,"v":480},{"p":"R","s":10,"x":105,"v":490},{"p":"R","s":10,"x":106,"v":450},{"p":"R","s":10,"x":107,"v":440},{"p":"R","s":10,"x":108,"v":-60},{"p":"R","s":10,"x":109,"v":300},{"p":"R","s":10,"x":110,"v":260},{"p":"R","s":10,"x":111,"v":400},{"p":"R","s":10,"x":112,"v":300},{"p":"R","s":10,"x":113,"v":450},{"p":"R","s":10,"x":114,"v":430},{"p":"R","s":10,"x":115,"v":320},{"p":"R","s":10,"x":116,"v":620},{"p":"R","s":10,"x":117,"v":630},{"p":"R","s":10,"x":118,"v":650},{"p":"R","s":10,"x":119,"v":500},{"p":"R","s":10,"x":120,"v":300}],
"notes":[{"p":"L","x":96.62,"v":2802,"t":"FR=0.741"},{"p":"L","x":96.62,"v":2673,"t":"AvInventory=47"},{"p":"L","x":96.62,"v":2545,"t":"AvOnHand=372"},{"p":"R","x":96.77,"v":2802,"t":"FR=0.938"},{"p":"R","x":96.77,"v":2673,"t":"AvInventory=738"},{"p":"R","x":96.77,"v":2545,"t":"AvOnHand=815"}]
},
"hconcat":[
{"width":297,"height":382,
"layer":[
{"data":{"name":"black"},"mark":{"type":"rule","color":"#D6D6D6","strokeWidth":1,"strokeDash":[1,3]},
"encoding":{"x":{"field":"x","type":"quantitative","scale":{"domain":[96.08,120.92],"nice":false,"zero":false},"axis":{"values":[100,105,110,115,120],"format":"d","grid":false,"domain":false,"tickColor":"#333","tickSize":6,"labelFontSize":11,"labelColor":"#222","labelPadding":6,"title":null,"labelFlush":false,"labelOverlap":false}}}},
{"data":{"name":"orange"},"transform":[{"filter":"datum.p==='L'"}],"mark":{"type":"line","color":"#FFDCB0","strokeWidth":1,"clip":true},
"encoding":{"x":{"field":"x","type":"quantitative"},
"y":{"field":"v","type":"quantitative","scale":{"domain":[-640,3140],"nice":false,"zero":false},"axis":{"values":[-500,0,500,1000,1500,2000,2500,3000],"format":"d","grid":false,"domain":false,"tickColor":"#333","tickSize":6,"labelFontSize":11,"labelColor":"#222","labelAngle":270,"labelAlign":"center","labelBaseline":"bottom","labelPadding":6,"title":null,"labelFlush":false,"labelOverlap":false}},
"detail":{"field":"s","type":"nominal"}}},
{"data":{"name":"green"},"transform":[{"filter":"datum.p==='L'"}],"mark":{"type":"rule","color":"#00EE00","strokeWidth":2},"encoding":{"x":{"field":"x","type":"quantitative"},"y":{"field":"v","type":"quantitative"},"y2":{"datum":0}}},
{"data":{"name":"red"},"transform":[{"filter":"datum.p==='L'"}],"mark":{"type":"line","color":"#FF0000","strokeWidth":1,"clip":true,"point":{"filled":true,"size":10,"color":"#FF0000"}},"encoding":{"x":{"field":"x","type":"quantitative"},"y":{"field":"v","type":"quantitative"},"detail":{"field":"s","type":"nominal"}}},
{"data":{"name":"black"},"mark":{"type":"line","color":"#000000","strokeWidth":1.5,"clip":true,"point":{"filled":true,"size":16,"color":"#000000"}},"encoding":{"x":{"field":"x","type":"quantitative"},"y":{"field":"v","type":"quantitative"}}},
{"data":{"name":"purple"},"transform":[{"filter":"datum.p==='L'"}],"mark":{"type":"line","color":"#9A14E6","strokeWidth":1.5,"clip":true,"point":{"filled":true,"size":18,"color":"#9A14E6","clip":true}},"encoding":{"x":{"field":"x","type":"quantitative"},"y":{"field":"v","type":"quantitative"}}},
{"data":{"values":[{}]},"mark":{"type":"rule","color":"#000000","strokeWidth":1.2},"encoding":{"y":{"datum":0}}},
{"data":{"name":"notes"},"transform":[{"filter":"datum.p==='L'"}],"mark":{"type":"text","align":"left","baseline":"middle","fontSize":11,"color":"#222"},"encoding":{"x":{"field":"x","type":"quantitative"},"y":{"field":"v","type":"quantitative"},"text":{"field":"t"}}}
]},
{"width":297,"height":382,
"layer":[
{"data":{"name":"black"},"mark":{"type":"rule","color":"#D6D6D6","strokeWidth":1,"strokeDash":[1,3]},
"encoding":{"x":{"field":"x","type":"quantitative","scale":{"domain":[96.08,120.92],"nice":false,"zero":false},"axis":{"values":[100,105,110,115,120],"format":"d","grid":false,"domain":false,"tickColor":"#333","tickSize":6,"labelFontSize":11,"labelColor":"#222","labelPadding":6,"title":null,"labelFlush":false,"labelOverlap":false}}}},
{"data":{"name":"orange"},"transform":[{"filter":"datum.p==='R'"}],"mark":{"type":"line","color":"#FFDCB0","strokeWidth":1,"clip":true},
"encoding":{"x":{"field":"x","type":"quantitative"},
"y":{"field":"v","type":"quantitative","scale":{"domain":[-640,3140],"nice":false,"zero":false},"axis":{"values":[-500,0,500,1000,1500,2000,2500,3000],"format":"d","grid":false,"domain":false,"tickColor":"#333","tickSize":6,"labelFontSize":11,"labelColor":"#222","labelAngle":270,"labelAlign":"center","labelBaseline":"bottom","labelPadding":6,"title":null,"labelFlush":false,"labelOverlap":false}},
"detail":{"field":"s","type":"nominal"}}},
{"data":{"name":"green"},"transform":[{"filter":"datum.p==='R'"}],"mark":{"type":"rule","color":"#00EE00","strokeWidth":2},"encoding":{"x":{"field":"x","type":"quantitative"},"y":{"field":"v","type":"quantitative"},"y2":{"datum":0}}},
{"data":{"name":"red"},"transform":[{"filter":"datum.p==='R'"}],"mark":{"type":"line","color":"#FF0000","strokeWidth":1,"clip":true,"point":{"filled":true,"size":10,"color":"#FF0000"}},"encoding":{"x":{"field":"x","type":"quantitative"},"y":{"field":"v","type":"quantitative"},"detail":{"field":"s","type":"nominal"}}},
{"data":{"name":"black"},"mark":{"type":"line","color":"#000000","strokeWidth":1.5,"clip":true,"point":{"filled":true,"size":16,"color":"#000000"}},"encoding":{"x":{"field":"x","type":"quantitative"},"y":{"field":"v","type":"quantitative"}}},
{"data":{"name":"purple"},"transform":[{"filter":"datum.p==='R'"}],"mark":{"type":"line","color":"#9A14E6","strokeWidth":1.5,"clip":true,"point":{"filled":true,"size":18,"color":"#9A14E6","clip":true}},"encoding":{"x":{"field":"x","type":"quantitative"},"y":{"field":"v","type":"quantitative"}}},
{"data":{"values":[{}]},"mark":{"type":"rule","color":"#000000","strokeWidth":1.2},"encoding":{"y":{"datum":0}}},
{"data":{"name":"notes"},"transform":[{"filter":"datum.p==='R'"}],"mark":{"type":"text","align":"left","baseline":"middle","fontSize":11,"color":"#222"},"encoding":{"x":{"field":"x","type":"quantitative"},"y":{"field":"v","type":"quantitative"},"text":{"field":"t"}}}
]}
]
}
